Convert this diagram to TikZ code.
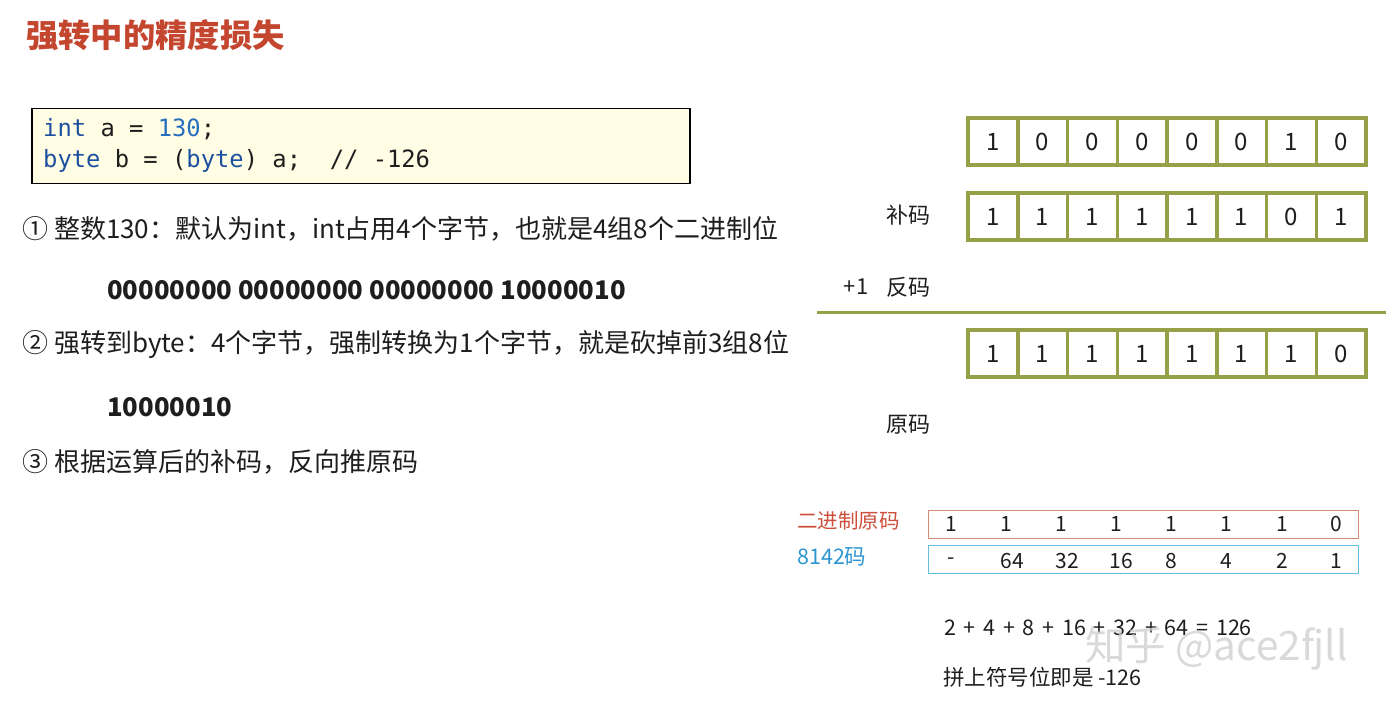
\documentclass[tikz,border=0pt]{standalone}
\usepackage{fontspec}
\setmainfont{Noto Sans CJK SC}
\newfontfamily\cjk{Noto Sans CJK SC}
\newfontfamily\codefont{DejaVu Sans Mono}
\definecolor{titlered}{RGB}{196,70,46}
\definecolor{codebg}{RGB}{255,253,228}
\definecolor{kwblue}{RGB}{30,80,160}
\definecolor{numblue}{RGB}{40,110,190}
\definecolor{olivegreen}{RGB}{150,160,72}
\definecolor{lblred}{RGB}{205,80,60}
\definecolor{boxred}{RGB}{215,140,120}
\definecolor{lblblue}{RGB}{45,150,210}
\definecolor{boxblue}{RGB}{100,190,222}
\definecolor{txt}{RGB}{30,30,30}
\definecolor{wm}{RGB}{205,205,205}
\tikzset{
  every node/.style={inner sep=0pt, text=txt},
  cell/.style={draw=olivegreen, line width=3.5pt, minimum width=49.75pt, minimum height=47pt, font=\cjk\fontsize{24}{28}\selectfont},
  item/.style={anchor=west, font=\cjk\fontsize{26}{30}\selectfont},
  bits/.style={anchor=west, font=\cjk\bfseries\fontsize{25.7}{30}\selectfont},
  lbl/.style={font=\cjk\fontsize{22}{26}\selectfont},
  val/.style={font=\cjk\fontsize{21}{26}\selectfont},
  small/.style={anchor=west, font=\cjk\fontsize{21.5}{26}\selectfont},
}
\begin{document}
\begin{tikzpicture}[x=1pt,y=-1pt]
\useasboundingbox[fill=white] (0,0) rectangle (1386,703);

% title
\node[anchor=west, font=\cjk\bfseries\fontsize{32.3}{36}\selectfont, text=titlered] (title) at (26,35) {强转中的精度损失};

% code box
\node[draw=black, line width=1.5pt, fill=codebg, minimum width=658pt, minimum height=75pt, anchor=north west] (code) at (31,108) {};
\node[anchor=west, font=\codefont\fontsize{23.8}{28}\selectfont] (code1) at (43,129)
  {\textcolor{kwblue}{int} a = \textcolor{numblue}{130};};
\node[anchor=west, font=\codefont\fontsize{23.8}{28}\selectfont] (code2) at (43,161)
  {\textcolor{kwblue}{byte} b = (\textcolor{kwblue}{byte}) a;\ \ // -126};

% explanation
\node[item] (i1) at (22,229) {① 整数130：默认为int，int占用4个字节，也就是4组8个二进制位};
\node[bits] (b1) at (107,290) {00000000 00000000 00000000 10000010};
\node[item] (i2) at (22,345) {② 强转到byte：4个字节，强制转换为1个字节，就是砍掉前3组8位};
\node[bits] (b2) at (107,407) {10000010};
\node[item] (i3) at (22,462) {③ 根据运算后的补码，反向推原码};

% bit rows
\foreach \v [count=\i] in {1,0,0,0,0,0,1,0}
  \node[cell] (ra\i) at ({968+24.875+(\i-1)*49.75},141.5) {\v};
\foreach \v [count=\i] in {1,1,1,1,1,1,0,1}
  \node[cell] (rb\i) at ({968+24.875+(\i-1)*49.75},216.5) {\v};
\foreach \v [count=\i] in {1,1,1,1,1,1,1,0}
  \node[cell] (rc\i) at ({968+24.875+(\i-1)*49.75},353.5) {\v};

\node[lbl] (buma) at (908,215) {补码};
\node[lbl] (plus1) at (856,287) {+1};
\node[lbl] (fanma) at (908,287) {反码};
\coordinate (ruleL) at (817,312);
\coordinate (ruleR) at (1386,312);
\draw[olivegreen, line width=3pt] (ruleL) -- (ruleR);
\node[lbl] (yuanma) at (908,425) {原码};

% original code / weights
\node[draw=boxred, line width=1.3pt, minimum width=430pt, minimum height=28pt, anchor=north west] (redbox) at (928,510) {};
\node[draw=boxblue, line width=1.3pt, minimum width=430pt, minimum height=28pt, anchor=north west] (bluebox) at (928,545) {};
\node[anchor=west, font=\cjk\fontsize{20.5}{24}\selectfont, text=lblred] (redlbl) at (797,521) {二进制原码};
\node[anchor=west, font=\cjk\fontsize{21.5}{24}\selectfont, text=lblblue] (bluelbl) at (797,557) {8142码};
\foreach \v/\x [count=\i] in {1/951,1/1006,1/1061,1/1116,1/1171,1/1226,1/1282,0/1336}
  \node[val] (o\i) at (\x,524) {\v};
\foreach \v/\x [count=\i] in {-/951,64/1012,32/1067,16/1121,8/1171,4/1226,2/1282,1/1336}
  \node[val] (w\i) at (\x,561) {\v};

\node[small] (sum) at (944,628) {\spaceskip=0.36em\relax 2 + 4 + 8 + 16 + 32 + 64 = 126};
\node[small] (res) at (943,677) {拼上符号位即是 -126};

% watermark
\node[anchor=west, font=\cjk\fontsize{40.5}{44}\selectfont, text=wm, opacity=0.75] (wmark) at (1085,648) {知乎 @ace2fjll};
\end{tikzpicture}
\end{document}
